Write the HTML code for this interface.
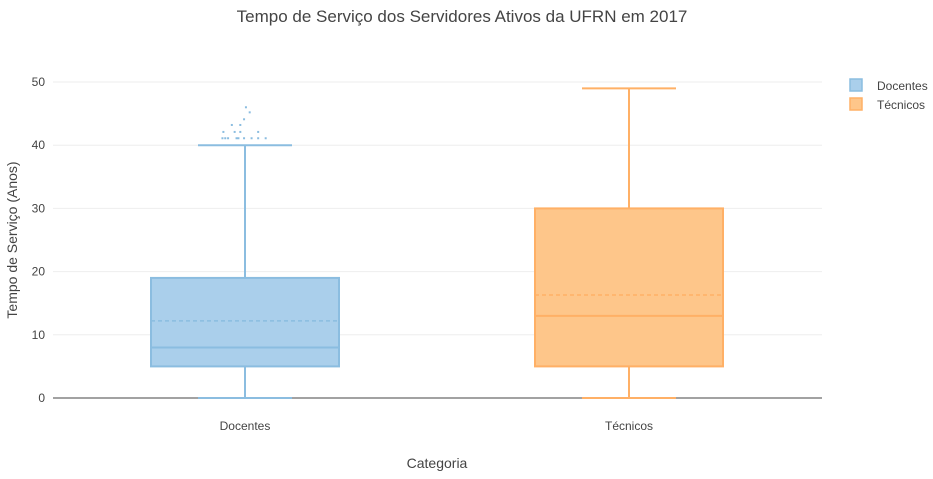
<!DOCTYPE html>
<html><head><meta charset="utf-8"><style>
body{margin:0;background:#fff;font-family:"Liberation Sans",sans-serif}
</style></head><body>
<svg id="c" width="933" height="474" xmlns="http://www.w3.org/2000/svg">
<text x="462" y="22" text-anchor="middle" font-size="17" fill="#444">Tempo de Serviço dos Servidores Ativos da UFRN em 2017</text>
<g id="grid"></g><g id="marks"></g>
<text x="437" y="468" text-anchor="middle" font-size="14" fill="#444">Categoria</text>
<text transform="translate(17,240) rotate(-90)" text-anchor="middle" font-size="14" fill="#444">Tempo de Serviço (Anos)</text>
<g>
<g><rect x="850" y="79" width="12" height="12" fill="#aacfeb" stroke="#8bbde0" stroke-width="1.5"/><text x="877" y="90" font-size="12" fill="#444">Docentes</text></g>
<g><rect x="850" y="98" width="12" height="12" fill="#fec68a" stroke="#ffb066" stroke-width="1.5"/><text x="877" y="109" font-size="12" fill="#444">Técnicos</text></g>
</g>
</svg>
<script>
const categories=["Docentes","Técnicos"];
const mins=[0,0];
const q1s=[5,5];
const medians=[8,13];
const means=[12.2,16.3];
const q3s=[19,30];
const maxs=[40,49];
const outlierVals=[46,45.2,44.1,43.2,43.2,42.1,42.1,42.1,42.1,41.1,41.1,41.1,41.1,41.1,41.1,41.1,41.1,41.1];
const outlierJitter=[0.01,0.05,-0.01,-0.14,-0.05,-0.23,-0.11,-0.05,0.14,-0.24,-0.21,-0.18,-0.09,-0.07,-0.01,0.07,0.14,0.22];
const yTicks=[0,10,20,30,40,50];
const fills=["#aacfeb","#fec68a"],strokes=["#8bbde0","#ffb066"];
const y=v=>398-v*6.32, x=i=>245+i*384, bw=94;
const NS="http://www.w3.org/2000/svg";
function mk(p,t,a){const e=document.createElementNS(NS,t);for(const k in a)e.setAttribute(k,a[k]);p.appendChild(e);return e;}
const g=document.getElementById('grid'),m=document.getElementById('marks');
yTicks.forEach(t=>{
 const l=mk(g,'line',{x1:53,x2:822,y1:y(t),y2:y(t),stroke:t===0?'#444':'#eee','stroke-width':1});
 
 
 const tx=mk(g,'text',{x:45,y:y(t)+4,'text-anchor':'end','font-size':12,fill:'#444'});tx.textContent=t;
 
 
});
categories.forEach((c,i)=>{
 const cx=x(i),s=strokes[i];
 const tx=mk(g,'text',{x:cx,y:430,'text-anchor':'middle','font-size':12,fill:'#444'});tx.textContent=c;
 
 
 const gr=mk(m,'g',{});
 
 
 mk(gr,'line',{x1:cx,x2:cx,y1:y(q3s[i]),y2:y(maxs[i]),stroke:s,'stroke-width':2});
 mk(gr,'line',{x1:cx,x2:cx,y1:y(q1s[i]),y2:y(mins[i]),stroke:s,'stroke-width':2});
 mk(gr,'line',{x1:cx-47,x2:cx+47,y1:y(maxs[i]),y2:y(maxs[i]),stroke:s,'stroke-width':2});
 mk(gr,'line',{x1:cx-47,x2:cx+47,y1:y(mins[i]),y2:y(mins[i]),stroke:s,'stroke-width':2});
 mk(gr,'rect',{x:cx-bw,y:y(q3s[i]),width:2*bw,height:y(q1s[i])-y(q3s[i]),fill:fills[i],stroke:s,'stroke-width':2});
 mk(gr,'line',{x1:cx-bw,x2:cx+bw,y1:y(medians[i]),y2:y(medians[i]),stroke:s,'stroke-width':2});
 mk(gr,'line',{x1:cx-bw,x2:cx+bw,y1:y(means[i]),y2:y(means[i]),stroke:s,'stroke-width':1.5,'stroke-dasharray':'4,3'});
});
outlierVals.forEach((v,j)=>{
 const p=mk(m,'rect',{x:x(0)+outlierJitter[j]*bw-1,y:y(v)-1,width:2,height:2,fill:strokes[0]});
 
 
});
</script>
</body></html>
